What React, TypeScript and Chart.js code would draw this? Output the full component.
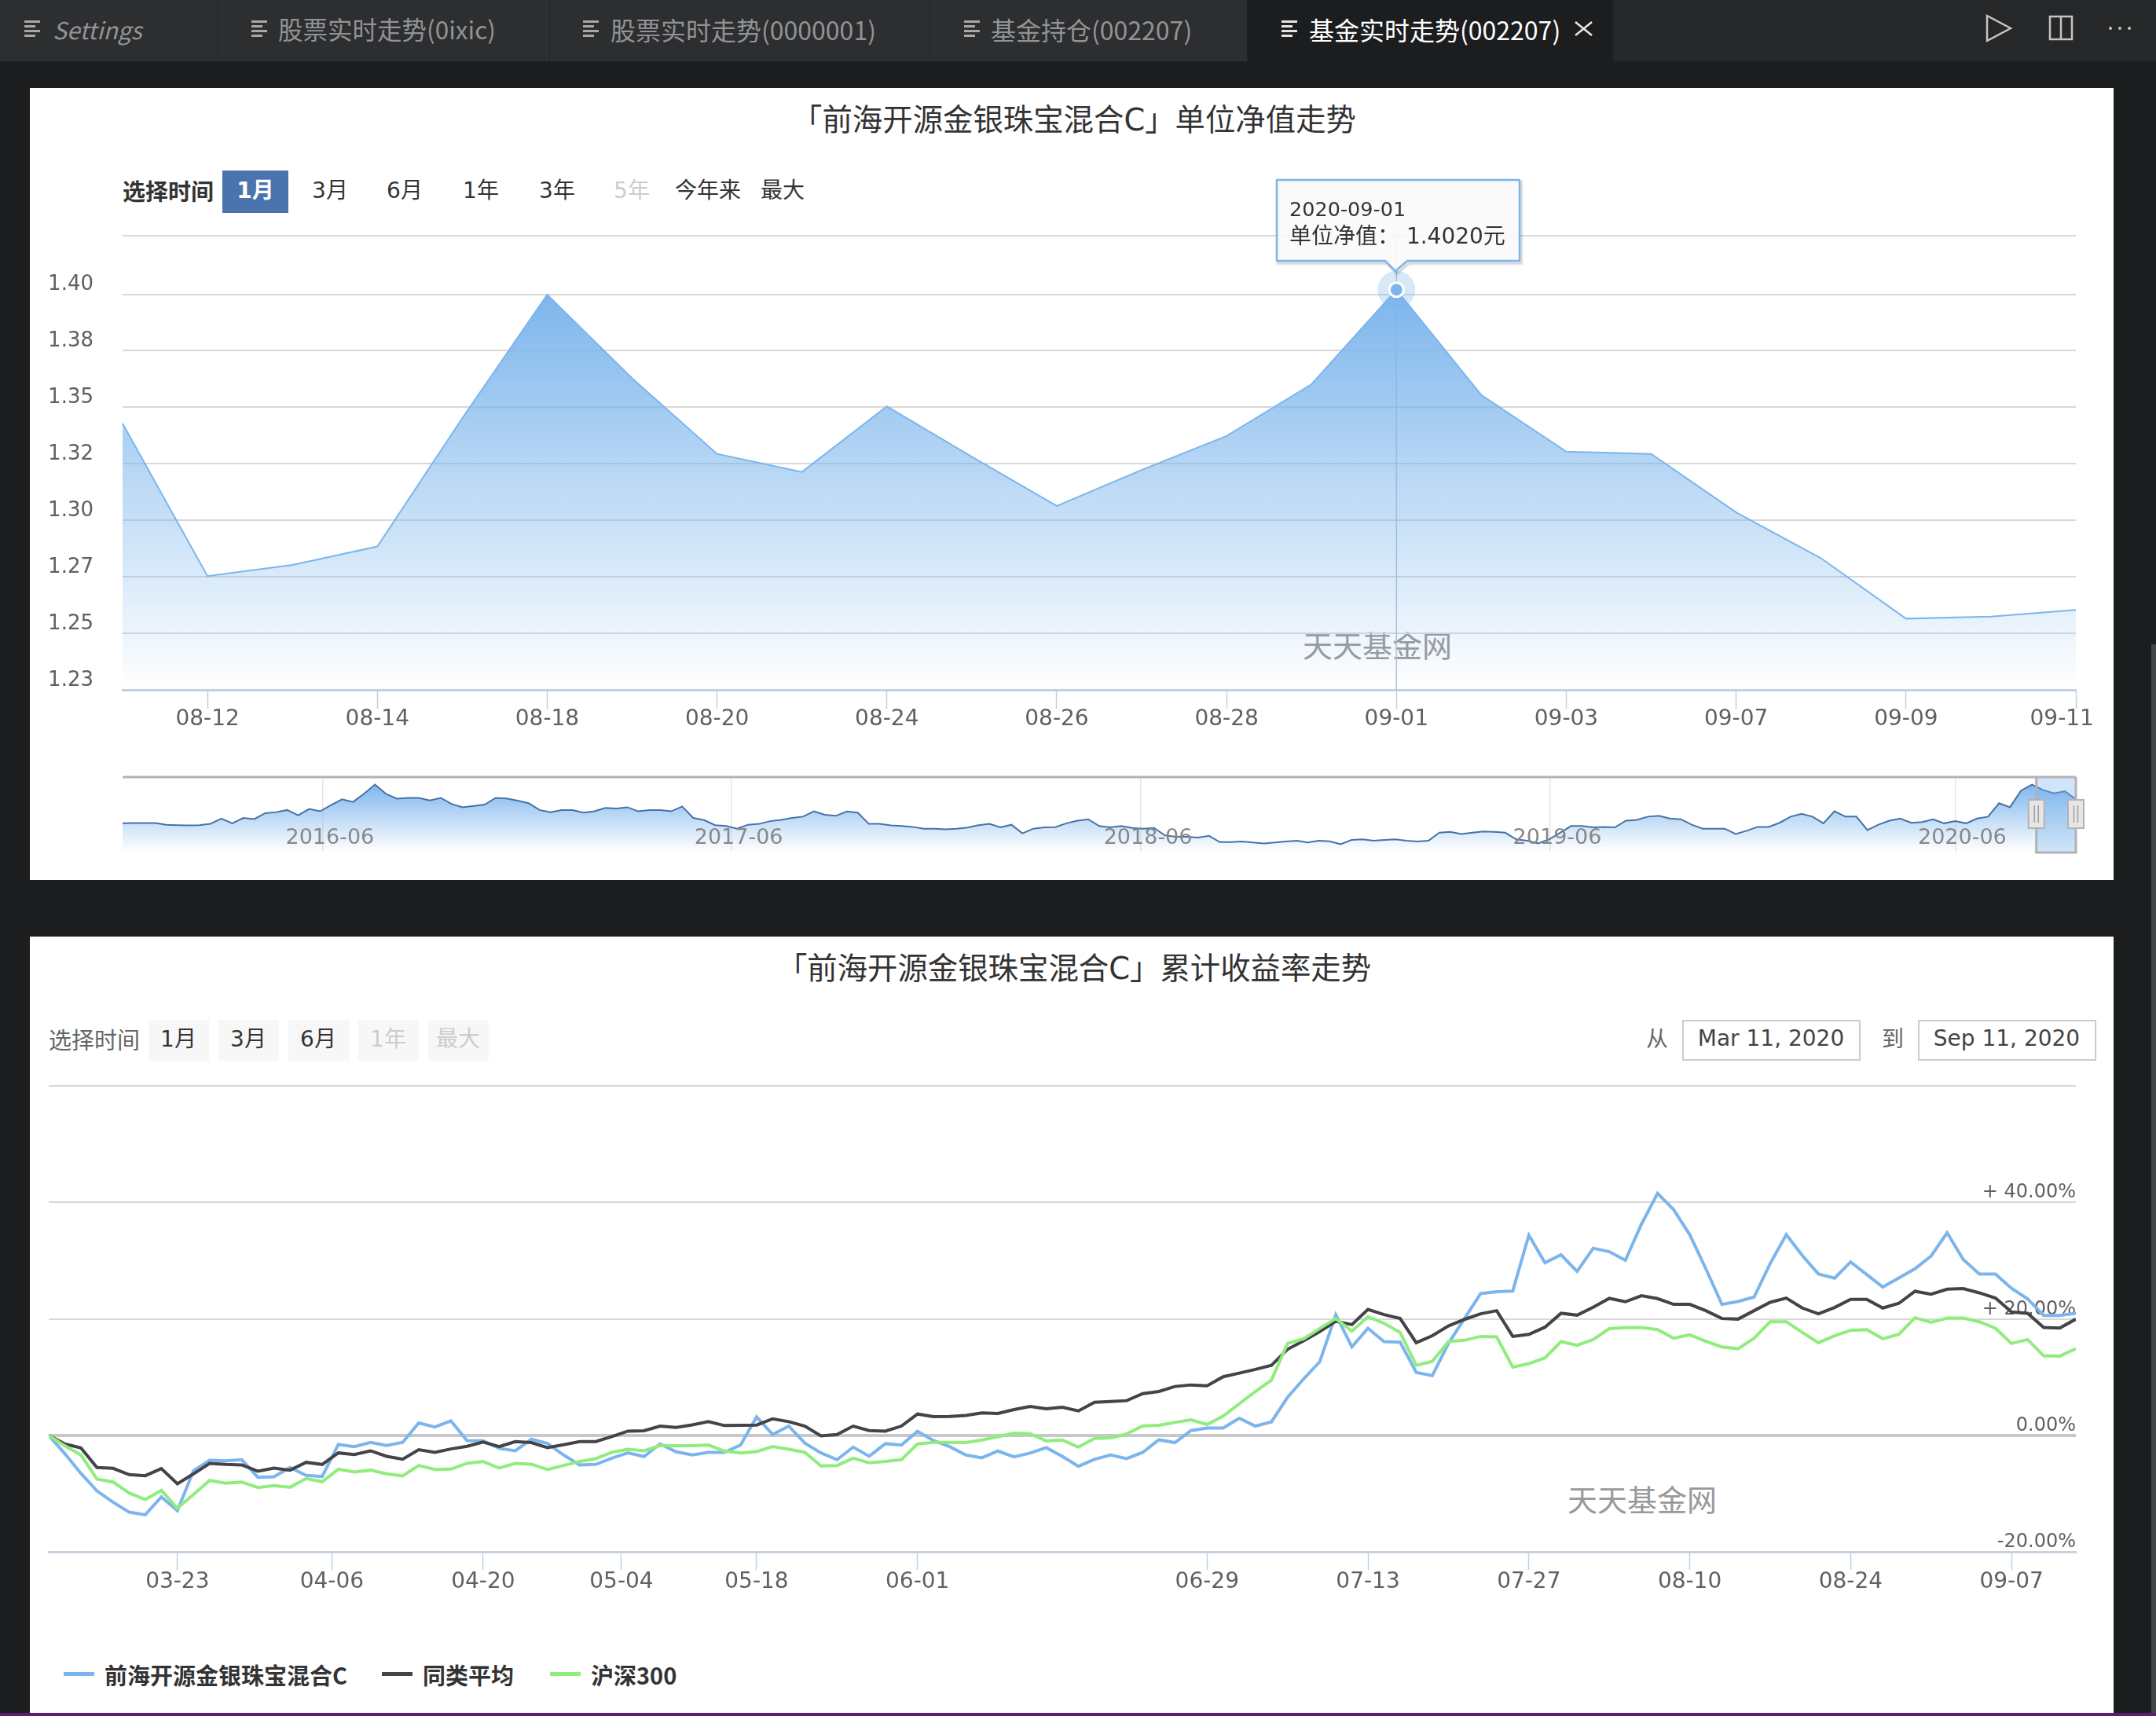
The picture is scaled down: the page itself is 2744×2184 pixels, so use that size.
import { useEffect, useRef } from "react"
import { Chart, registerables } from "chart.js"

Chart.register(...registerables)

const LATIN = '"DejaVu Sans", "Noto Sans CJK SC", sans-serif'
const CJK = '"Noto Sans CJK SC", sans-serif'

// net value chart
const netDates = ["08-11", "08-12", "08-13", "08-14", "08-17", "08-18", "08-19", "08-20", "08-21", "08-24", "08-25", "08-26", "08-27", "08-28", "08-31", "09-01", "09-02", "09-03", "09-04", "09-07", "09-08", "09-09", "09-10", "09-11"]
const netValues = [1.3428, 1.2753, 1.2803, 1.2884, 1.3452, 1.3998, 1.3628, 1.3294, 1.3214, 1.3504, 1.3281, 1.3064, 1.3223, 1.3373, 1.3602, 1.402, 1.3554, 1.3304, 1.3294, 1.3035, 1.2832, 1.2565, 1.2574, 1.2604]
const netTickIdx = [1, 3, 5, 7, 9, 11, 13, 15, 17, 19, 21, 23]
const netYTicks = [1.225, 1.25, 1.275, 1.3, 1.325, 1.35, 1.375, 1.4, 1.4259]
const netYLabels = ["1.23", "1.25", "1.27", "1.30", "1.32", "1.35", "1.38", "1.40", ""]
const peakIdx = 15

// navigator, whole history of the fund
const navValues = [
  1.059, 1.061, 1.061, 1.061, 1.047, 1.043, 1.041, 1.043, 1.054, 1.099, 1.059, 1.104, 1.095, 1.144, 1.153, 1.171, 1.126, 1.18, 1.16, 1.212,
  1.261, 1.239, 1.307, 1.385, 1.307, 1.266, 1.273, 1.273, 1.252, 1.273, 1.221, 1.194, 1.205, 1.216, 1.273, 1.268, 1.25, 1.228, 1.171, 1.153,
  1.171, 1.171, 1.149, 1.16, 1.189, 1.183, 1.194, 1.16, 1.171, 1.171, 1.16, 1.201, 1.104, 1.086, 1.043, 1.036, 1.014, 1.047, 1.054, 1.077,
  1.088, 1.104, 1.115, 1.16, 1.131, 1.122, 1.158, 1.149, 1.054, 1.054, 1.041, 1.036, 1.029, 1.014, 1.014, 1.009, 1.014, 1.023, 1.043, 1.054,
  1.025, 1.047, 0.975, 1.014, 1.025, 1.027, 1.059, 1.081, 1.093, 1.036, 1.025, 1.036, 1.02, 1.014, 1.02, 0.957, 0.946, 0.946, 0.939, 0.953,
  0.901, 0.901, 0.906, 0.897, 0.89, 0.897, 0.906, 0.912, 0.897, 0.912, 0.908, 0.883, 0.919, 0.924, 0.912, 0.919, 0.924, 0.912, 0.906, 0.912,
  0.98, 0.987, 0.969, 0.98, 0.991, 0.987, 0.98, 0.924, 0.912, 0.89, 0.924, 0.98, 1.036, 1.036, 1.025, 1.029, 1.025, 1.081, 1.088, 1.115,
  1.122, 1.099, 1.093, 1.047, 1.014, 1.014, 1.014, 0.969, 0.996, 1.029, 1.029, 1.063, 1.115, 1.138, 1.115, 1.059, 1.16, 1.115, 1.115, 1.002,
  1.047, 1.081, 1.099, 1.063, 1.07, 1.093, 1.059, 1.077, 1.059, 1.099, 1.115, 1.228, 1.194, 1.334, 1.385, 1.34, 1.311, 1.329, 1.261,
]
const navTickIdx = [18.25, 55.5, 92.8, 130.1, 167]
const navTickLabels = ["2016-06", "2017-06", "2018-06", "2019-06", "2020-06"]
const navSelectFrom = 174.4

// cumulative return chart, one value per trading day since 03-11
const fundReturn = [
  0, -3.15, -6.53, -9.55, -11.49, -13.2, -13.65, -10.59, -12.93, -6.08, -4.28, -4.37, -4.19, -7.21, -7.12, -5.54, -6.89, -7.07, -1.58, -1.94,
  -1.22, -1.76, -1.22, 2.12, 1.44, 2.48, -0.9, -0.95, -2.25, -2.66, -0.68, -1.4, -3.38, -5.09, -5.0, -3.92, -3.02, -3.65, -1.49, -2.84,
  -3.38, -2.93, -2.93, -1.67, 3.15, 0.14, 1.58, -1.35, -3.02, -4.19, -2.03, -3.6, -1.44, -1.67, 0.68, -0.9, -1.94, -3.38, -3.87, -2.7,
  -3.69, -3.06, -2.12, -3.6, -5.32, -4.14, -3.38, -4.01, -2.93, -0.77, -1.26, 0.81, 1.26, 1.26, 2.93, 1.58, 2.3, 6.53, 9.68, 12.61,
  20.72, 15.18, 18.38, 16.08, 15.99, 10.81, 10.27, 15.77, 20.05, 24.32, 24.64, 24.77, 34.37, 29.64, 30.99, 28.15, 32.12, 31.53, 30.05, 36.26,
  41.53, 38.74, 34.46, 28.6, 22.48, 22.97, 23.74, 29.5, 34.46, 30.86, 27.7, 26.98, 29.77, 27.61, 25.45, 27.03, 28.6, 30.77, 34.77, 30.18,
  27.7, 27.7, 25.23, 23.42, 20.59, 20.59, 20.95,
]
const peerReturn = [
  0, -1.49, -2.16, -5.54, -5.68, -6.76, -6.94, -5.72, -8.33, -6.62, -4.82, -5.0, -5.09, -6.17, -5.63, -5.99, -4.64, -5.0, -3.02, -3.29,
  -2.66, -3.6, -4.1, -2.48, -2.93, -2.34, -1.89, -1.17, -1.94, -1.08, -1.26, -2.12, -1.62, -1.08, -1.08, -0.23, 0.72, 0.77, 1.58, 1.35,
  1.8, 2.34, 1.67, 1.71, 1.76, 2.84, 2.34, 1.58, -0.09, 0.14, 1.58, 0.81, 0.72, 1.58, 3.65, 3.2, 3.24, 3.42, 3.83, 3.74,
  4.41, 4.95, 4.55, 4.82, 4.19, 5.68, 5.81, 5.95, 7.16, 7.52, 8.38, 8.65, 8.51, 10.05, 10.68, 11.31, 12.03, 14.77, 16.22, 17.79,
  19.59, 19.0, 21.62, 20.72, 20.05, 15.9, 17.1, 18.78, 19.9, 20.86, 21.4, 16.98, 17.34, 18.56, 20.95, 20.63, 21.98, 23.51, 22.93, 23.96,
  23.47, 22.48, 22.48, 21.4, 20.05, 19.95, 21.4, 22.84, 23.56, 21.85, 20.86, 21.94, 23.33, 23.33, 21.85, 22.66, 24.73, 24.23, 25.09, 25.18,
  24.46, 23.56, 21.17, 20.95, 18.51, 18.42, 19.95,
]
const indexReturn = [
  0, -1.8, -3.38, -7.52, -8.02, -9.91, -11.04, -9.46, -12.52, -10.14, -7.75, -8.24, -8.02, -8.96, -8.65, -8.92, -7.43, -7.97, -5.81, -6.31,
  -5.99, -6.62, -6.98, -5.18, -5.86, -5.81, -4.82, -4.5, -5.63, -4.82, -4.95, -5.9, -5.18, -4.5, -4.01, -2.93, -2.39, -2.66, -1.76, -1.8,
  -1.8, -1.67, -2.7, -3.02, -2.79, -1.94, -2.39, -2.93, -5.27, -5.18, -3.92, -4.73, -4.5, -4.19, -1.49, -1.22, -1.22, -1.26, -0.81, -0.23,
  0.36, 0.27, -0.99, -0.81, -2.03, -0.54, -0.45, 0.23, 1.62, 1.71, 2.21, 2.66, 1.85, 3.29, 5.41, 7.52, 9.5, 15.77, 16.58, 18.33,
  20.05, 17.88, 20.36, 19.23, 17.66, 12.03, 12.7, 16.08, 16.31, 16.98, 16.89, 11.71, 12.3, 13.29, 16.08, 15.45, 16.44, 18.33, 18.47, 18.51,
  18.15, 16.67, 17.25, 16.13, 15.18, 14.86, 16.67, 19.5, 19.5, 17.66, 15.9, 17.07, 18.02, 18.15, 16.58, 17.34, 20.18, 19.41, 20.14, 20.14,
  19.5, 18.38, 15.77, 16.44, 13.65, 13.6, 14.86,
]
const returnTickIdx = [8, 17.6, 27, 35.6, 44, 54, 72, 82, 92, 102, 112, 122]
const returnTickLabels = ["03-23", "04-06", "04-20", "05-04", "05-18", "06-01", "06-29", "07-13", "07-27", "08-10", "08-24", "09-07"]
const returnYLabels = ["-20.00%", "0.00%", "+ 20.00%", "+ 40.00%", ""]

const seriesNames = ["前海开源金银珠宝混合C", "同类平均", "沪深300"]
const seriesColors = ["#7cb5ec", "#434348", "#90ed7d"]

// chart.js reserves room for half a label at each end of an axis, the plot here has fixed edges
function noPadding(axis: any) {
  axis.paddingTop = 0
  axis.paddingBottom = 0
  axis.paddingLeft = 0
  axis.paddingRight = 0
}

function areaGradient(chart: any, topValue: number) {
  const { ctx, chartArea, scales } = chart
  if (!chartArea) return "#7cb5ec"
  const g = ctx.createLinearGradient(0, scales.y.getPixelForValue(topValue), 0, chartArea.bottom)
  g.addColorStop(0, "rgba(124, 181, 236, 1)")
  g.addColorStop(1, "rgba(124, 181, 236, 0)")
  return g
}

// crosshair and halo behind the hovered point
const hoverPlugin = {
  id: "hover",
  beforeDatasetsDraw(chart: any) {
    const { ctx, chartArea, scales } = chart
    const x = scales.x.getPixelForValue(peakIdx)
    const y = scales.y.getPixelForValue(netValues[peakIdx])
    ctx.save()
    ctx.strokeStyle = "#b4c3d4"
    ctx.lineWidth = 1.5
    ctx.beginPath()
    ctx.moveTo(x, chartArea.top)
    ctx.lineTo(x, chartArea.bottom)
    ctx.stroke()
    ctx.fillStyle = "rgba(124, 181, 236, 0.3)"
    ctx.beginPath()
    ctx.arc(x, y, 24, 0, Math.PI * 2)
    ctx.fill()
    ctx.restore()
  },
}

// top line of the navigator, selected range and its two handles
const navigatorPlugin = {
  id: "navigator",
  afterDatasetsDraw(chart: any) {
    const { ctx, chartArea, scales } = chart
    const left = scales.x.getPixelForValue(navSelectFrom)
    const right = chartArea.right
    const { top, bottom } = chartArea
    ctx.save()
    ctx.fillStyle = "rgba(124, 181, 236, 0.35)"
    ctx.fillRect(left, top, right - left, bottom - top + 1)
    ctx.strokeStyle = "#b2b1b6"
    ctx.lineWidth = 3
    ctx.beginPath()
    ctx.moveTo(chartArea.left, top)
    ctx.lineTo(right, top)
    ctx.moveTo(left, top)
    ctx.lineTo(left, bottom + 1)
    ctx.lineTo(right, bottom + 1)
    ctx.lineTo(right, top)
    ctx.stroke()
    for (const cx of [left, right]) {
      ctx.fillStyle = "#e6e6e6"
      ctx.strokeStyle = "#b2b1b6"
      ctx.lineWidth = 2
      ctx.fillRect(cx - 10, top + 29, 20, 36)
      ctx.strokeRect(cx - 10, top + 29, 20, 36)
      ctx.strokeStyle = "#a0a0a0"
      ctx.lineWidth = 1.5
      ctx.beginPath()
      ctx.moveTo(cx - 2.5, top + 36)
      ctx.lineTo(cx - 2.5, top + 58)
      ctx.moveTo(cx + 2.5, top + 36)
      ctx.lineTo(cx + 2.5, top + 58)
      ctx.stroke()
    }
    ctx.restore()
  },
}

function NetChart() {
  const ref = useRef<HTMLCanvasElement>(null)
  useEffect(() => {
    if (!ref.current) return
    const chart = new Chart(ref.current, {
      type: "line",
      data: {
        labels: netDates,
        datasets: [
          {
            data: netValues,
            borderColor: "#7cb5ec",
            borderWidth: 2,
            tension: 0,
            fill: "start",
            backgroundColor: (c: any) => areaGradient(c.chart, Math.max(...netValues)),
            pointRadius: (c: any) => (c.dataIndex === peakIdx ? 9 : 0),
            pointBackgroundColor: "#7cb5ec",
            pointBorderColor: "#ffffff",
            pointBorderWidth: 3,
          },
        ],
      },
      options: {
        responsive: false,
        devicePixelRatio: 1,
        animation: false,
        layout: { padding: { top: 10, right: 96, left: 0, bottom: 0 } },
        plugins: { legend: { display: false }, tooltip: { enabled: false } },
        scales: {
          x: {
            afterBuildTicks: (axis: any) => {
              axis.ticks = netTickIdx.map((value) => ({ value }))
            },
            afterFit: (axis: any) => {
              axis.height = 60
              noPadding(axis)
            },
            border: { color: "#c4cfe2", width: 3 },
            grid: { drawOnChartArea: false, tickLength: 24, tickColor: "#c0d0e0", tickWidth: 1.5 },
            ticks: {
              autoSkip: false,
              maxRotation: 0,
              padding: -3,
              color: "#606060",
              font: { family: LATIN, size: 28 },
              // the last label sits left of its tick in the original
              callback: (v: any) => (v === 23 ? netDates[23] + "\u00a0\u00a0\u00a0\u00a0" : netDates[v]),
            },
          },
          y: {
            min: netYTicks[0],
            max: netYTicks[netYTicks.length - 1],
            afterBuildTicks: (axis: any) => {
              axis.ticks = netYTicks.map((value) => ({ value }))
            },
            afterFit: (axis: any) => {
              axis.width = 156 - 38
              noPadding(axis)
            },
            border: { display: false },
            grid: {
              drawTicks: false,
              lineWidth: 2,
              color: (c: any) => (c.index === 0 ? "transparent" : "#d8d8d8"),
            },
            ticks: {
              padding: 37,
              labelOffset: -12,
              color: "#606060",
              font: { family: LATIN, size: 26 },
              callback: (_v: any, i: number) => netYLabels[i],
            },
          },
        },
      },
      plugins: [hoverPlugin],
    } as any)
    return () => chart.destroy()
  }, [])
  return <canvas ref={ref} width={2700} height={648} style={{ position: "absolute", left: 38, top: 290 }} />
}

function NavChart() {
  const ref = useRef<HTMLCanvasElement>(null)
  useEffect(() => {
    if (!ref.current) return
    const chart = new Chart(ref.current, {
      type: "line",
      data: {
        datasets: [
          {
            data: navValues.map((y, x) => ({ x, y })),
            borderColor: "#4572a7",
            borderWidth: 2,
            tension: 0,
            pointRadius: 0,
            fill: "start",
            backgroundColor: (c: any) => areaGradient(c.chart, 1.4),
          },
        ],
      },
      options: {
        responsive: false,
        devicePixelRatio: 1,
        animation: false,
        layout: { padding: { top: 9, right: 96, left: 118, bottom: 0 } },
        plugins: { legend: { display: false }, tooltip: { enabled: false } },
        scales: {
          x: {
            type: "linear",
            min: 0,
            max: navValues.length - 1,
            afterBuildTicks: (axis: any) => {
              axis.ticks = navTickIdx.map((value) => ({ value }))
            },
            afterFit: (axis: any) => {
              axis.height = 21
              noPadding(axis)
            },
            border: { display: false },
            grid: { drawTicks: false, color: "#e6e6e6", lineWidth: 1.5 },
            ticks: {
              z: 1,
              // mirror keeps the labels from being clipped to the axis box
              mirror: true,
              autoSkip: false,
              maxRotation: 0,
              padding: 1,
              labelOffset: 9,
              color: "#888888",
              font: { family: LATIN, size: 27 },
              callback: (_v: any, i: number) => navTickLabels[i],
            },
          },
          y: { display: false, min: 0.82, max: 1.448 },
        },
      },
      plugins: [navigatorPlugin],
    } as any)
    return () => chart.destroy()
  }, [])
  return <canvas ref={ref} width={2700} height={125} style={{ position: "absolute", left: 38, top: 980 }} />
}

function ReturnChart() {
  const ref = useRef<HTMLCanvasElement>(null)
  useEffect(() => {
    if (!ref.current) return
    const series = [fundReturn, peerReturn, indexReturn]
    const chart = new Chart(ref.current, {
      type: "line",
      data: {
        datasets: series.map((values, i) => ({
          label: seriesNames[i],
          data: values.map((y, x) => ({ x, y })),
          borderColor: seriesColors[i],
          borderWidth: 4,
          tension: 0,
          pointRadius: 0,
          fill: false,
          order: 3 - i,
        })),
      },
      options: {
        responsive: false,
        devicePixelRatio: 1,
        animation: false,
        layout: { padding: { top: 10, right: 96, left: 24, bottom: 0 } },
        plugins: { legend: { display: false }, tooltip: { enabled: false } },
        scales: {
          x: {
            type: "linear",
            min: 0,
            max: fundReturn.length - 1,
            afterBuildTicks: (axis: any) => {
              axis.ticks = returnTickIdx.map((value) => ({ value }))
            },
            afterFit: (axis: any) => {
              axis.height = 60
              noPadding(axis)
            },
            border: { color: "#c4d2e2", width: 3 },
            grid: { drawOnChartArea: false, tickLength: 23, tickColor: "#c0d0e0", tickWidth: 1.5 },
            ticks: {
              autoSkip: false,
              maxRotation: 0,
              padding: -1,
              color: "#606060",
              font: { family: LATIN, size: 28 },
              callback: (_v: any, i: number) => returnTickLabels[i],
            },
          },
          y: {
            position: "right",
            min: -20,
            max: 60,
            afterFit: (axis: any) => {
              axis.width = 0
              noPadding(axis)
            },
            border: { display: false },
            grid: {
              drawTicks: false,
              lineWidth: (c: any) => (c.tick.value === 0 ? 4 : 2),
              color: (c: any) => (c.tick.value === -20 ? "transparent" : c.tick.value === 0 ? "#c8c8c8" : "#d8d8d8"),
            },
            ticks: {
              stepSize: 20,
              mirror: true,
              padding: 0,
              labelOffset: -12,
              color: "#606060",
              font: { family: LATIN, size: 24 },
              callback: (_v: any, i: number) => returnYLabels[i],
            },
          },
        },
      },
    } as any)
    return () => chart.destroy()
  }, [])
  return <canvas ref={ref} width={2700} height={663} style={{ position: "absolute", left: 38, top: 1372 }} />
}

type LabelProps = {
  x: number
  y: number
  size: number
  color: string
  text: string
  center?: boolean
  bold?: boolean
  italic?: boolean
  font?: string
}

// text placed by its vertical middle
function Label({ x, y, size, color, text, center, bold, italic, font }: LabelProps) {
  return (
    <div
      style={{
        position: "absolute",
        left: x,
        top: y,
        transform: center ? "translate(-50%, -50%)" : "translateY(-50%)",
        fontSize: size,
        lineHeight: 1.2,
        color,
        fontFamily: font || LATIN,
        fontWeight: bold ? 700 : 400,
        fontStyle: italic ? "italic" : "normal",
        whiteSpace: "nowrap",
      }}
    >
      {text}
    </div>
  )
}

function Box({ x, y, w, h, bg, border }: { x: number; y: number; w: number; h: number; bg: string; border?: string }) {
  return (
    <div
      style={{
        position: "absolute",
        left: x,
        top: y,
        width: w,
        height: h,
        background: bg,
        border,
        boxSizing: "border-box",
      }}
    />
  )
}

function TabIcon({ x, color }: { x: number; color: string }) {
  return (
    <svg width={20} height={22} style={{ position: "absolute", left: x, top: 26 }}>
      <rect x={0} y={0} width={20} height={3} fill={color} />
      <rect x={0} y={6} width={14} height={3} fill={color} />
      <rect x={0} y={12} width={20} height={3} fill={color} />
      <rect x={0} y={18} width={14} height={3} fill={color} />
    </svg>
  )
}

const tabs = [
  { icon: 31, x: 67, text: "Settings", italic: true, size: 30 },
  { icon: 320, x: 354, text: "股票实时走势(0ixic)", size: 31.5 },
  { icon: 742, x: 777, text: "股票实时走势(0000001)", size: 32 },
  { icon: 1227, x: 1261, text: "基金持仓(002207)", size: 32 },
]
const tabEdges = [276, 699, 1183, 1587]

const rangeTop = [
  { x: 420, text: "3月", color: "#333333" },
  { x: 515, text: "6月", color: "#333333" },
  { x: 612, text: "1年", color: "#333333" },
  { x: 709, text: "3年", color: "#333333" },
  { x: 804, text: "5年", color: "#cccccc" },
  { x: 901, text: "今年来", color: "#333333" },
  { x: 996, text: "最大", color: "#333333" },
]
const rangeBottom = [
  { x: 189, text: "1月", color: "#333333" },
  { x: 278, text: "3月", color: "#333333" },
  { x: 367, text: "6月", color: "#333333" },
  { x: 456, text: "1年", color: "#cccccc" },
  { x: 545, text: "最大", color: "#cccccc" },
]
const legendX = [81, 486, 700]

function TabBar() {
  return (
    <>
      <Box x={0} y={0} w={1587} h={78} bg="#2d2e30" />
      <Box x={2053} y={0} w={691} h={78} bg="#262729" />
      {tabEdges.map((x) => (
        <Box key={x} x={x} y={0} w={1} h={78} bg="#232426" />
      ))}
      {tabs.map((t) => (
        <div key={t.x}>
          <TabIcon x={t.icon} color="#a8a8a8" />
          <Label x={t.x} y={37} size={t.size} color="#929395" text={t.text} italic={t.italic} font={CJK} />
        </div>
      ))}
      <TabIcon x={1631} color="#e4e4e4" />
      <Label x={1666} y={37} size={32} color="#ffffff" text="基金实时走势(002207)" font={CJK} />
      <svg width={740} height={78} style={{ position: "absolute", left: 2004, top: 0 }}>
        <path d="M1 28 L22 45 M22 28 L1 45" stroke="#e8e8e8" strokeWidth={2.5} fill="none" />
        <path d="M525 20 L555 36 L525 52 Z" stroke="#c4c4c4" strokeWidth={2.5} fill="none" />
        <rect x={605} y={21} width={28} height={29} stroke="#c4c4c4" strokeWidth={2.5} fill="none" />
        <path d="M619 21 L619 50" stroke="#c4c4c4" strokeWidth={2.5} />
        <circle cx={682} cy={36} r={2} fill="#c4c4c4" />
        <circle cx={694} cy={36} r={2} fill="#c4c4c4" />
        <circle cx={706} cy={36} r={2} fill="#c4c4c4" />
      </svg>
    </>
  )
}

const tooltipPath = "M15 11 H324 V114 H181 L166 127 L153 114 H15 Z"

function HoverTooltip() {
  return (
    <>
      <svg width={340} height={140} style={{ position: "absolute", left: 1610, top: 218 }}>
        <path d={tooltipPath} fill="none" stroke="rgba(0,0,0,0.05)" strokeWidth={6} transform="translate(2,3)" />
        <path d={tooltipPath} fill="none" stroke="rgba(0,0,0,0.1)" strokeWidth={3} transform="translate(2,3)" />
        <path d={tooltipPath} fill="rgba(249, 249, 249, 0.9)" stroke="#7cb5ec" strokeWidth={2.5} strokeLinejoin="round" />
      </svg>
      <Label x={1641} y={266} size={25.5} color="#333333" text="2020-09-01" />
      <Label x={1641} y={301} size={28} color="#333333" text="单位净值： 1.4020元" />
    </>
  )
}

export default function App() {
  return (
    <div style={{ position: "absolute", left: 0, top: 0, width: 2744, height: 2184, overflow: "hidden", background: "#1c1d1f" }}>
      <TabBar />
      <Box x={2738} y={820} w={6} h={1364} bg="#434445" />

      <Box x={38} y={112} w={2652} h={1008} bg="#ffffff" />
      <Label x={1367} y={153} size={38.4} color="#333333" text="「前海开源金银珠宝混合C」单位净值走势" center />
      <Label x={156} y={245} size={29} color="#333333" text="选择时间" bold />
      <Box x={283} y={217} w={84} h={54} bg="#4b74ae" />
      <Label x={325} y={243} size={28} color="#ffffff" text="1月" center bold />
      {rangeTop.map((r) => (
        <Label key={r.x} x={r.x} y={243} size={28} color={r.color} text={r.text} center />
      ))}
      <Label x={1753} y={820} size={38} color="#999999" text="天天基金网" center font={CJK} />
      <NetChart />
      <NavChart />
      <HoverTooltip />

      <Box x={38} y={1192} w={2652} h={988} bg="#ffffff" />
      <Box x={0} y={2180} w={2744} h={4} bg="#5b1f6e" />
      <Label x={1367} y={1233} size={38.4} color="#333333" text="「前海开源金银珠宝混合C」累计收益率走势" center />
      <Label x={62} y={1325} size={29} color="#666666" text="选择时间" />
      {rangeBottom.map((r) => (
        <div key={r.x}>
          <Box x={r.x} y={1298} w={77} h={52} bg="#f7f7f7" />
          <Label x={r.x + 38} y={1323} size={28} color={r.color} text={r.text} center />
        </div>
      ))}
      <Label x={2109} y={1323} size={28} color="#666666" text="从" center />
      <Box x={2141} y={1298} w={227} h={52} bg="#ffffff" border="2px solid #cccccc" />
      <Label x={2254} y={1322} size={28} color="#444444" text="Mar 11, 2020" center />
      <Label x={2409} y={1323} size={28} color="#666666" text="到" center />
      <Box x={2441} y={1298} w={227} h={52} bg="#ffffff" border="2px solid #cccccc" />
      <Label x={2554} y={1322} size={28} color="#444444" text="Sep 11, 2020" center />
      <Label x={2090} y={1907} size={38} color="#999999" text="天天基金网" center font={CJK} />
      <ReturnChart />
      {seriesNames.map((name, i) => (
        <div key={name}>
          <Box x={legendX[i]} y={2128} w={39} h={5} bg={seriesColors[i]} />
          <Label x={legendX[i] + 52} y={2131} size={29} color="#333333" text={name} bold font={CJK} />
        </div>
      ))}
    </div>
  )
}
